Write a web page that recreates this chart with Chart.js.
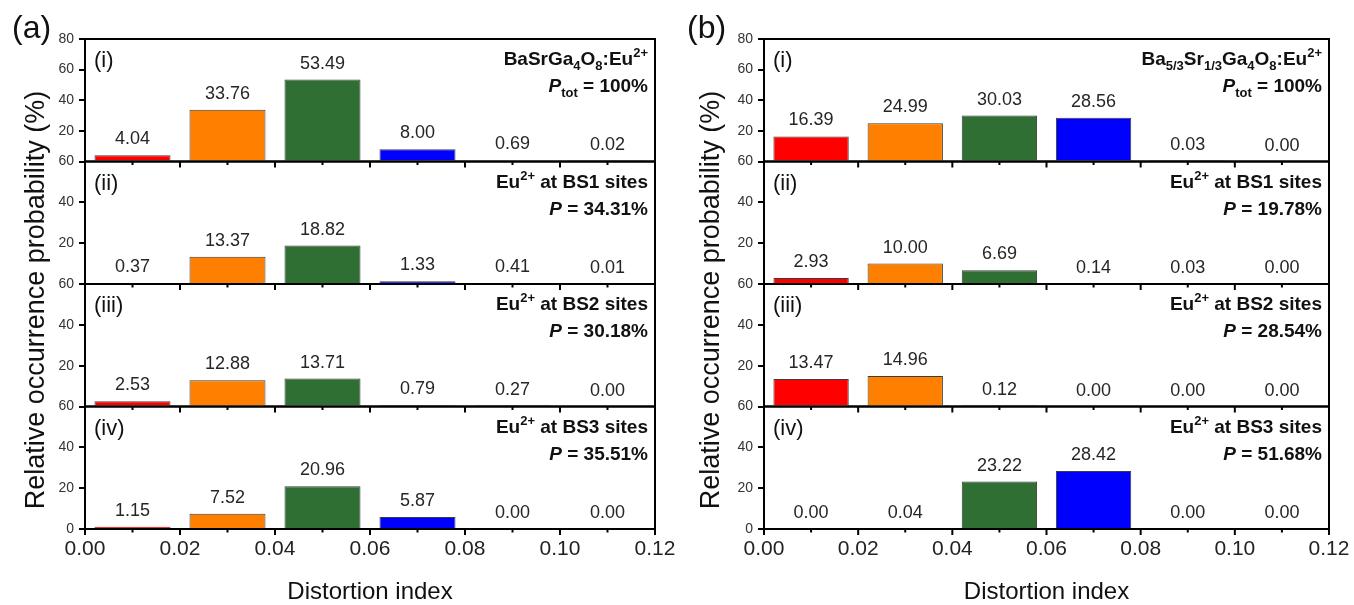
<!DOCTYPE html>
<html><head><meta charset="utf-8">
<script src="https://cdn.jsdelivr.net/npm/chart.js@4.4.1/dist/chart.umd.min.js"></script>
<style>
html,body{margin:0;padding:0;background:#fff;}
#wrap{position:relative;width:1354px;height:605px;overflow:hidden;background:#fff;}
canvas{position:absolute;top:0;}
</style></head><body>
<div id="wrap">
<canvas id="ca" width="677" height="605" style="left:0"></canvas>
<canvas id="cb" width="677" height="605" style="left:677px"></canvas>
</div>
<script>
// ---------- data ----------
const distortionIndex = [0.01, 0.03, 0.05, 0.07, 0.09, 0.11];
const xTickValues = [0.00, 0.02, 0.04, 0.06, 0.08, 0.10, 0.12];
const xMinorTickValues = [0.01, 0.03, 0.05, 0.07, 0.09, 0.11];
const yTicksTop = [0, 20, 40, 60, 80];
const yTicksLower = [0, 20, 40, 60];
const barColors = ['#ff0000', '#ff8000', '#306f33', '#0000ff', '#8b008b', '#00bfbf'];

const aTotal = [4.04, 33.76, 53.49, 8.00, 0.69, 0.02];
const aBS1   = [0.37, 13.37, 18.82, 1.33, 0.41, 0.01];
const aBS2   = [2.53, 12.88, 13.71, 0.79, 0.27, 0.00];
const aBS3   = [1.15, 7.52, 20.96, 5.87, 0.00, 0.00];

const bTotal = [16.39, 24.99, 30.03, 28.56, 0.03, 0.00];
const bBS1   = [2.93, 10.00, 6.69, 0.14, 0.03, 0.00];
const bBS2   = [13.47, 14.96, 0.12, 0.00, 0.00, 0.00];
const bBS3   = [0.00, 0.04, 23.22, 28.42, 0.00, 0.00];

const subPanelTags = ['(i)', '(ii)', '(iii)', '(iv)'];

// rich text: [text, style]  style: '' normal, 'sub', 'sup', 'it'
const aHeaders = [
  [[['BaSrGa',''],['4','sub'],['O',''],['8','sub'],[':Eu',''],['2+','sup']], [['P','it'],['tot','sub'],[' = 100%','']]],
  [[['Eu',''],['2+','sup'],[' at BS1 sites','']], [['P','it'],[' = 34.31%','']]],
  [[['Eu',''],['2+','sup'],[' at BS2 sites','']], [['P','it'],[' = 30.18%','']]],
  [[['Eu',''],['2+','sup'],[' at BS3 sites','']], [['P','it'],[' = 35.51%','']]]
];
const bHeaders = [
  [[['Ba',''],['5/3','sub'],['Sr',''],['1/3','sub'],['Ga',''],['4','sub'],['O',''],['8','sub'],[':Eu',''],['2+','sup']], [['P','it'],['tot','sub'],[' = 100%','']]],
  [[['Eu',''],['2+','sup'],[' at BS1 sites','']], [['P','it'],[' = 19.78%','']]],
  [[['Eu',''],['2+','sup'],[' at BS2 sites','']], [['P','it'],[' = 28.54%','']]],
  [[['Eu',''],['2+','sup'],[' at BS3 sites','']], [['P','it'],[' = 51.68%','']]]
];

const FAM = '"Liberation Sans", Arial, Helvetica, sans-serif';
const NARROW = '"Liberation Sans Narrow", "Liberation Sans", Arial, sans-serif';
Chart.defaults.font.family = FAM;

function richFont(style, size) {
  if (style === 'sub' || style === 'sup') return 'bold ' + Math.round(size * 0.66) + 'px ' + FAM;
  if (style === 'it') return 'italic bold ' + size + 'px ' + FAM;
  return 'bold ' + size + 'px ' + FAM;
}
function drawRich(ctx, segs, rightX, baseline, size) {
  let total = 0;
  const widths = segs.map(([t, st]) => { ctx.font = richFont(st, size); const w = ctx.measureText(t).width; total += w; return w; });
  let x = rightX - total;
  segs.forEach(([t, st], i) => {
    ctx.font = richFont(st, size);
    let y = baseline;
    if (st === 'sub') y = baseline + size * 0.28;
    if (st === 'sup') y = baseline - size * 0.42;
    ctx.fillText(t, x, y);
    x += widths[i];
  });
}

function makeDeco(letter, headers, letterX, titleX) {
  return {
    id: 'deco',
    afterDatasetsDraw(chart) {
      const ctx = chart.ctx, ca = chart.chartArea, xs = chart.scales.x;
      const ys = ['y1', 'y2', 'y3', 'y4'].map(id => chart.scales[id]);
      ctx.save();
      // frames
      ctx.strokeStyle = '#000'; ctx.lineWidth = 2;
      ys.forEach(s => ctx.strokeRect(ca.left, s.top, ca.right - ca.left, s.bottom - s.top));
      // x tick marks under every panel
      ctx.lineWidth = 2;
      ys.forEach(s => {
        xTickValues.forEach(v => { const p = xs.getPixelForValue(v); ctx.beginPath(); ctx.moveTo(p, s.bottom); ctx.lineTo(p, s.bottom + 6); ctx.stroke(); });
        xMinorTickValues.forEach(v => { const p = xs.getPixelForValue(v); ctx.beginPath(); ctx.moveTo(p, s.bottom); ctx.lineTo(p, s.bottom + 3.5); ctx.stroke(); });
      });
      // value labels
      ctx.font = '18px ' + FAM; ctx.fillStyle = '#262626';
      ctx.textAlign = 'center'; ctx.textBaseline = 'alphabetic';
      chart.data.datasets.forEach((ds, di) => {
        chart.getDatasetMeta(di).data.forEach((el, i) => {
          ctx.fillText(ds.data[i].y.toFixed(2), el.x, el.y - 11);
        });
      });
      // sub-panel tags and headers
      ctx.fillStyle = '#111'; ctx.textAlign = 'left';
      ys.forEach((s, k) => {
        ctx.font = '22px ' + FAM;
        ctx.fillText(subPanelTags[k], ca.left + 9, s.top + 28);
        drawRich(ctx, headers[k][0], ca.right - 7, s.top + 26, 19);
        drawRich(ctx, headers[k][1], ca.right - 7, s.top + 53, 19);
      });
      // panel letter
      ctx.font = '32px ' + FAM; ctx.fillStyle = '#111'; ctx.textAlign = 'left';
      ctx.fillText(letter, letterX, 38);
      // y title
      ctx.translate(titleX, (ca.top + ca.bottom) / 2 + 16);
      ctx.rotate(-Math.PI / 2);
      ctx.textAlign = 'center'; ctx.textBaseline = 'middle';
      ctx.font = '27px ' + FAM; ctx.fillStyle = '#111';
      ctx.fillText('Relative occurrence probability (%)', 0, 0);
      ctx.restore();
    }
  };
}

function yScale(max, tickArr, weight, showZero) {
  return {
    type: 'linear', position: 'left', stack: 'panels', stackWeight: 1, weight: weight,
    min: 0, max: max, offset: false,
    afterBuildTicks: s => { s.ticks = tickArr.map(v => ({ value: v })); },
    afterFit: s => { s.width = 40; s.paddingTop = 0; s.paddingBottom = 0; },
    grid: { display: true, drawOnChartArea: false, drawTicks: true, tickLength: 6, color: '#000', lineWidth: 2 },
    border: { display: false },
    ticks: { font: { family: NARROW, size: 14 }, color: '#333', padding: 5, autoSkip: false,
      callback: v => (v === 0 && !showZero) ? '' : String(v) }
  };
}

function makeChart(id, series, letter, headers, pad, letterX, titleX) {
  const ids = ['y1', 'y2', 'y3', 'y4'];
  new Chart(document.getElementById(id), {
    type: 'bar',
    data: {
      datasets: series.map((vals, k) => ({
        data: distortionIndex.map((x, i) => ({ x: x, y: vals[i] })),
        xAxisID: 'x', yAxisID: ids[k],
        backgroundColor: barColors, borderColor: '#3c3c3c', borderWidth: 1,
        grouped: false, barPercentage: 0.8, categoryPercentage: 1
      }))
    },
    options: {
      responsive: false, animation: false,
      layout: { padding: pad },
      plugins: { legend: { display: false }, tooltip: { enabled: false } },
      scales: {
        x: {
          type: 'linear', position: 'bottom', min: 0, max: 0.12, offset: false,
          afterBuildTicks: s => { s.ticks = xTickValues.map(v => ({ value: v })); },
          afterFit: s => { s.height = 76; s.paddingLeft = 0; s.paddingRight = 0; },
          grid: { display: false, drawTicks: false, offset: false }, border: { display: false },
          ticks: { font: { size: 21 }, color: '#222', padding: 8, autoSkip: false, maxRotation: 0,
            callback: v => Number(v).toFixed(2) },
          title: { display: true, text: 'Distortion index', color: '#111',
            font: { size: 24, lineHeight: 1 }, padding: { top: 0, bottom: 1 } }
        },
        y1: yScale(80, yTicksTop, 4, false),
        y2: yScale(60, yTicksLower, 3, false),
        y3: yScale(60, yTicksLower, 2, false),
        y4: yScale(60, yTicksLower, 1, true)
      }
    },
    plugins: [makeDeco(letter, headers, letterX, titleX)]
  });
}

makeChart('ca', [aTotal, aBS1, aBS2, aBS3], '(a)', aHeaders, { left: 45, right: 22, top: 39, bottom: 0 }, 12, 37);
makeChart('cb', [bTotal, bBS1, bBS2, bBS3], '(b)', bHeaders, { left: 47, right: 25, top: 39, bottom: 0 }, 10, 35);
</script>
</body></html>
